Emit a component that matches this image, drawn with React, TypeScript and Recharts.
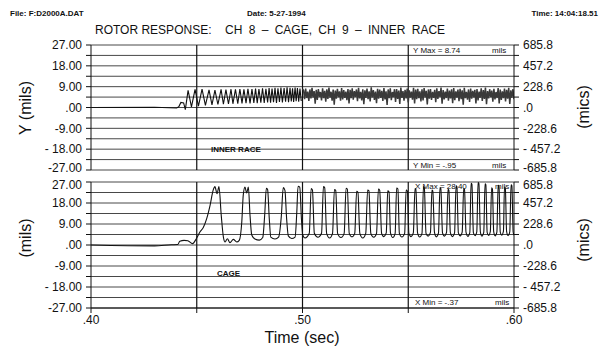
import React from "react";
import { LineChart, Line, XAxis, YAxis, CartesianGrid, ReferenceLine } from "recharts";

const FONT = "'Liberation Sans', Arial, sans-serif";

const timeTicks = [0.4, 0.45, 0.5, 0.55, 0.6];
const timeLabels = [".40", "", ".50", "", ".60"];
const gridTimes = [0.45, 0.5, 0.55];

const milsTicks = [-27, -22.5, -18, -13.5, -9, -4.5, 0, 4.5, 9, 13.5, 18, 22.5, 27];
const milsLabels = ["-27.00", "", "- 18.00", "", "-9.00", "", ".00", "", "9.00", "", "18.00", "", "27.00"];
const micsTicks = [-685.8, -571.5, -457.2, -342.9, -228.6, -114.3, 0, 114.3, 228.6, 342.9, 457.2, 571.5, 685.8];
const micsLabels = ["-685.8", "", "- 457.2", "", "-228.6", "", ".0", "", "228.6", "", "457.2", "", "685.8"];

// CH 9 inner race, run-up sweep (sec, mils)
const innerSweepTime = [
  0.4, 0.43, 0.4405, 0.4415, 0.4425, 0.4438, 0.4446,
  0.4459, 0.4475, 0.4492, 0.4508, 0.4525, 0.4541, 0.4558, 0.4572, 0.4586, 0.46,
  0.4615, 0.4626, 0.4638, 0.465, 0.4662, 0.4671, 0.4683, 0.4694, 0.4704, 0.4714,
  0.4723, 0.4733, 0.4742, 0.4752, 0.4761, 0.477, 0.4778, 0.4786, 0.4794, 0.4803,
  0.4811, 0.4819, 0.4827, 0.4835, 0.4842, 0.4849, 0.4856, 0.4863, 0.487, 0.4877,
  0.4884, 0.4891, 0.4898, 0.4905, 0.4913, 0.492, 0.4927, 0.4934, 0.4941, 0.4947,
  0.4953, 0.4958, 0.4965, 0.497, 0.4976, 0.4982, 0.4988, 0.4994,
];
const innerSweepMils = [
  0.0, 0.1, -0.2, 0.3, 2.2, 2.0, -0.95,
  7.4, 0.3, 7.8, 0.6, 7.9, 0.9, 7.6, 1.1, 7.5, 1.3,
  7.8, 1.4, 7.7, 1.5, 7.9, 1.6, 7.8, 1.7, 8.0, 1.8,
  7.9, 1.9, 8.1, 1.8, 8.0, 2.0, 8.2, 1.9, 8.0, 2.1,
  8.3, 2.0, 8.1, 2.2, 8.4, 2.1, 8.2, 2.3, 8.5, 2.0,
  8.3, 2.4, 8.6, 2.2, 8.4, 2.5, 8.74, 2.3, 8.5, 2.6,
  8.3, 2.4, 8.6, 2.7, 8.4, 2.5, 8.2, 2.8,
];

// CH 9 inner race after .50, sampled every 0.5 ms
const innerNoiseStart = 0.5;
const innerNoiseStep = 0.0005;
const innerNoiseMils = [
  8.0,
  7.4, 3.6, 8.2, 4.1, 6.9, 2.8, 7.8, 3.9, 8.5, 4.4, 7.1, 1.6, 7.6, 3.3, 8.0, 4.6, 6.7, 3.1, 8.3, 4.0,
  7.2, 2.5, 7.9, 3.7, 8.6, 4.3, 6.8, 3.0, 7.7, 1.2, 7.3, 3.8, 8.1, 4.5, 7.0, 2.9, 8.4, 3.5, 7.5, 4.2,
  6.9, 3.2, 8.0, 1.8, 7.6, 4.0, 8.3, 3.4, 7.1, 4.6, 7.8, 2.7, 8.5, 3.9, 6.8, 3.1, 7.9, 1.4, 7.4, 4.1,
  8.2, 3.6, 7.0, 2.6, 8.7, 4.4, 7.5, 3.3, 6.9, 1.9, 8.1, 3.8, 7.7, 4.2, 7.2, 2.8, 8.4, 3.5, 7.0, 1.1,
  7.8, 4.0, 8.3, 3.2, 6.7, 4.5, 7.9, 2.4, 8.0, 3.7, 7.3, 1.5, 8.6, 4.1, 7.1, 3.0, 7.6, 3.9, 8.2, 2.2,
  7.4, 4.3, 6.9, 3.4, 8.5, 1.7, 7.7, 3.6, 8.1, 4.0, 7.0, 2.6, 7.9, 3.1, 8.4, 4.4, 7.2, 1.3, 7.8, 3.8,
  8.0, 3.3, 6.8, 4.2, 7.6, 2.3, 8.3, 3.7, 7.1, 4.6, 8.6, 1.6, 7.5, 3.5, 6.9, 4.1, 8.2, 2.9, 7.3, 3.9,
  7.9, 1.9, 8.4, 3.2, 7.0, 4.3, 7.7, 2.7, 8.1, 3.6, 7.4, 1.2, 8.5, 4.0, 6.8, 3.4, 7.8, 2.4, 8.2, 3.8,
  7.2, 4.4, 7.6, 1.8, 8.0, 3.1, 6.9, 4.2, 8.3, 2.8, 7.5, 3.7, 8.6, 1.4, 7.1, 3.9, 7.9, 4.5, 7.3, 2.5,
  8.1, 3.5, 6.7, 4.1, 8.4, 1.7, 7.7, 3.3, 7.0, 4.0, 8.2, 2.6, 7.6, 3.8, 8.5, 1.5, 7.4, 4.2, 7.9, 3.6,
];

// CH 8 cage (sec, mils)
const cageTime = [
  0.4, 0.43, 0.438, 0.441, 0.442, 0.444, 0.4458, 0.448, 0.45, 0.4515, 0.4531, 0.4547,
  0.4563, 0.4578, 0.4586, 0.4596, 0.4605, 0.4616, 0.4626, 0.4634, 0.4645, 0.4657, 0.4673,
  0.4689, 0.4701, 0.4713, 0.472, 0.4728, 0.4736, 0.4744, 0.4752, 0.476, 0.4775, 0.4796,
  0.4812, 0.4821, 0.4829, 0.4835, 0.4843, 0.485, 0.487, 0.4887, 0.49, 0.4909, 0.4917,
  0.4925, 0.4933, 0.4949, 0.4965, 0.4973, 0.4979, 0.4987, 0.4995, 0.5001,
  0.5012, 0.5032, 0.5041, 0.5047, 0.5056,
  0.5073, 0.509, 0.5099, 0.5105, 0.5114,
  0.5128, 0.5142, 0.5151, 0.5157, 0.5166,
  0.5182, 0.5197, 0.5206, 0.5212, 0.5221,
  0.5234, 0.5247, 0.5256, 0.5262, 0.5271,
  0.5285, 0.5299, 0.5308, 0.5314, 0.5323,
  0.5337, 0.535, 0.5359, 0.5365, 0.5374,
  0.5384, 0.5396, 0.5403, 0.5409, 0.5416,
  0.5427, 0.5438, 0.5445, 0.5451, 0.5458,
  0.547, 0.5483, 0.549, 0.5496, 0.5503,
  0.5513, 0.5524, 0.5532, 0.5536, 0.5544,
  0.5554, 0.5565, 0.5572, 0.5576, 0.5584,
  0.5594, 0.5605, 0.5612, 0.5616, 0.5624,
  0.5633, 0.5643, 0.565, 0.5654, 0.5662,
  0.5671, 0.5681, 0.5688, 0.5692, 0.5699,
  0.5709, 0.5719, 0.5726, 0.573, 0.5737,
  0.5746, 0.5755, 0.5762, 0.5766, 0.5773,
  0.5782, 0.5791, 0.5797, 0.5801, 0.5808,
  0.5816, 0.5824, 0.583, 0.5834, 0.5841,
  0.5848, 0.5857, 0.5863, 0.5867, 0.5873,
  0.588, 0.5888, 0.5894, 0.5898, 0.5904,
  0.5911, 0.5919, 0.5925, 0.5929, 0.5935,
  0.5942, 0.595, 0.5955, 0.5959, 0.5965,
  0.5972, 0.598, 0.5986, 0.599, 0.5996,
  0.6,
];
const cageMils = [
  0.0, -0.37, 0.1, 0.2, 1.6, 2.0, 1.8, 0.6, 3.0, 5.6, 7.5, 11.3,
  17.0, 23.6, 25.0, 22.0, 25.0, 12.5, 3.4, 1.3, 2.7, 1.0, 2.4,
  1.3, 2.0, 10.0, 21.5, 24.8, 22.3, 24.8, 12.5, 4.3, 2.6, 2.1,
  3.2, 12.5, 24.3, 23.8, 11.2, 3.4, 2.6, 3.4, 12.5, 24.6, 23.4,
  11.2, 3.9, 2.8, 3.4, 14.0, 25.2, 24.8, 11.2, 4.3,
  3.0, 5.0, 24.2, 23.6, 5.0,
  3.3, 5.0, 25.0, 24.5, 5.0,
  3.0, 5.0, 23.8, 23.4, 5.0,
  3.2, 5.0, 24.3, 24.0, 5.0,
  3.5, 5.0, 23.0, 22.6, 5.0,
  3.0, 5.0, 23.6, 23.2, 5.0,
  3.3, 5.0, 24.0, 23.5, 5.0,
  3.6, 5.2, 23.2, 22.8, 5.2,
  3.2, 5.0, 24.4, 24.0, 5.0,
  3.4, 5.0, 23.5, 23.0, 5.0,
  3.6, 5.2, 24.2, 23.8, 5.2,
  3.4, 5.0, 25.0, 24.6, 5.0,
  3.8, 5.4, 23.6, 23.2, 5.4,
  3.5, 5.2, 24.6, 24.2, 5.2,
  3.8, 5.4, 24.0, 23.5, 5.4,
  3.6, 5.2, 25.4, 25.0, 5.2,
  3.9, 5.5, 24.2, 23.8, 5.5,
  3.7, 5.3, 26.4, 26.0, 5.3,
  4.0, 5.6, 26.8, 26.4, 5.6,
  3.8, 5.4, 26.2, 25.8, 5.4,
  4.1, 5.7, 24.5, 24.0, 5.7,
  3.9, 5.5, 25.6, 25.2, 5.5,
  4.2, 5.8, 24.8, 24.4, 5.8,
  4.0, 5.6, 25.8, 25.4, 5.6,
  4.2,
];

const innerSweep = innerSweepTime.map((t, i) => ({ t, v: innerSweepMils[i] }));
const innerNoise = innerNoiseMils.map((v, i) => ({ t: innerNoiseStart + i * innerNoiseStep, v }));
const cage = cageTime.map((t, i) => ({ t, v: cageMils[i] }));

const tickStyle = { fill: "#111", fontSize: 12, fontFamily: FONT };

// y tick with the panel-edge labels nudged apart (top panel bottom / bottom panel top)
function yTick(ticks: number[], labels: string[], upper: boolean) {
  return (props: any) => {
    const { x, y, payload, textAnchor } = props;
    const idx = ticks.indexOf(payload.value);
    let shift = 0;
    if (upper && idx === 0) shift = -2.5;
    if (!upper && idx === ticks.length - 1) shift = 2.5;
    return (
      <text x={x} y={y + shift} dy="0.355em" textAnchor={textAnchor} {...tickStyle}>
        {labels[idx] ?? ""}
      </text>
    );
  };
}

function Panel({ top, height, marginTop, showTime, children }: any) {
  const upper = !showTime;
  return (
    <div style={{ position: "absolute", left: 0, top }}>
      <LineChart width={601} height={height} margin={{ top: marginTop, right: 0, bottom: showTime ? 20 : 10, left: 0 }}>
        <CartesianGrid yAxisId="left" vertical={false} stroke="#333" strokeWidth={0.9} />
        <XAxis
          type="number"
          dataKey="t"
          domain={[0.4, 0.6]}
          ticks={timeTicks}
          interval={0}
          allowDataOverflow
          hide={!showTime}
          height={20}
          tickSize={5}
          tickMargin={2}
          stroke="#111"
          tick={tickStyle}
          tickFormatter={(v: number) => timeLabels[timeTicks.indexOf(v)] ?? ""}
        />
        <YAxis
          yAxisId="left"
          orientation="left"
          width={91}
          domain={[-27, 27]}
          ticks={milsTicks}
          interval={0}
          allowDataOverflow
          tickSize={5}
          tickMargin={4}
          stroke="#111"
          tick={yTick(milsTicks, milsLabels, upper)}
        />
        <YAxis
          yAxisId="right"
          orientation="right"
          width={87}
          domain={[-685.8, 685.8]}
          ticks={micsTicks}
          interval={0}
          allowDataOverflow
          tickSize={5}
          tickMargin={4}
          stroke="#111"
          tick={yTick(micsTicks, micsLabels, upper)}
        />
        {gridTimes.map((t) => (
          <ReferenceLine key={t} x={t} yAxisId="left" stroke="#111" strokeWidth={1.2} />
        ))}
        {children}
      </LineChart>
    </div>
  );
}

const ann = { fontFamily: FONT, fill: "#111" } as const;

export default function App() {
  return (
    <div style={{ position: "absolute", left: 0, top: 0, width: 601, height: 348, background: "#fff", overflow: "hidden" }}>
      <Panel top={0} height={180} marginTop={45} showTime={false}>
        <Line yAxisId="left" data={innerSweep} dataKey="v" type="linear" stroke="#111" strokeWidth={1.1} dot={false} isAnimationActive={false} />
        <Line yAxisId="left" data={innerNoise} dataKey="v" type="linear" stroke="#3a3a3a" strokeWidth={1.5} dot={false} isAnimationActive={false} />
      </Panel>
      <Panel top={170} height={178} marginTop={12} showTime={true}>
        <Line yAxisId="left" data={cage} dataKey="v" type="monotone" stroke="#111" strokeWidth={1.1} dot={false} isAnimationActive={false} />
      </Panel>
      <svg width={601} height={348} style={{ position: "absolute", left: 0, top: 0, pointerEvents: "none" }}>
        <text x={10} y={16} fontSize={8} fontWeight={600} {...ann}>File: F:D2000A.DAT</text>
        <text x={247} y={16} fontSize={8} fontWeight={600} {...ann}>Date: 5-27-1994</text>
        <text x={598} y={16} fontSize={8} fontWeight={600} textAnchor="end" {...ann}>Time: 14:04:18.51</text>
        <text x={95} y={34} fontSize={12} {...ann}>ROTOR RESPONSE:</text>
        <text x={225} y={34} fontSize={12} {...ann} wordSpacing={3}>CH 8 – CAGE, CH 9 – INNER RACE</text>

        <text x={413} y={53} fontSize={8} {...ann}>Y Max = 8.74</text>
        <text x={492} y={53} fontSize={8} {...ann}>mils</text>
        <text x={413} y={168} fontSize={8} {...ann}>Y Min = -.95</text>
        <text x={492} y={168} fontSize={8} {...ann}>mils</text>
        <text x={211} y={152} fontSize={8} fontWeight={600} {...ann}>INNER RACE</text>

        <text x={415} y={189} fontSize={8} {...ann}>X Max = 28.40</text>
        <text x={495} y={189} fontSize={8} {...ann}>mils</text>
        <text x={415} y={305} fontSize={8} {...ann}>X Min = -.37</text>
        <text x={495} y={305} fontSize={8} {...ann}>mils</text>
        <text x={217} y={276} fontSize={8} fontWeight={600} {...ann}>CAGE</text>

        <text x={0} y={0} fontSize={16} textAnchor="middle" dominantBaseline="central" transform="translate(25 108) rotate(-90)" {...ann}>Y (mils)</text>
        <text x={0} y={0} fontSize={16} textAnchor="middle" dominantBaseline="central" transform="translate(25 238) rotate(-90)" {...ann}>(mils)</text>
        <text x={0} y={0} fontSize={16} textAnchor="middle" dominantBaseline="central" transform="translate(583 107) rotate(-90)" {...ann}>(mics)</text>
        <text x={0} y={0} fontSize={16} textAnchor="middle" dominantBaseline="central" transform="translate(583 240) rotate(-90)" {...ann}>(mics)</text>
        <text x={302} y={343} fontSize={16} textAnchor="middle" {...ann}>Time (sec)</text>
      </svg>
    </div>
  );
}
